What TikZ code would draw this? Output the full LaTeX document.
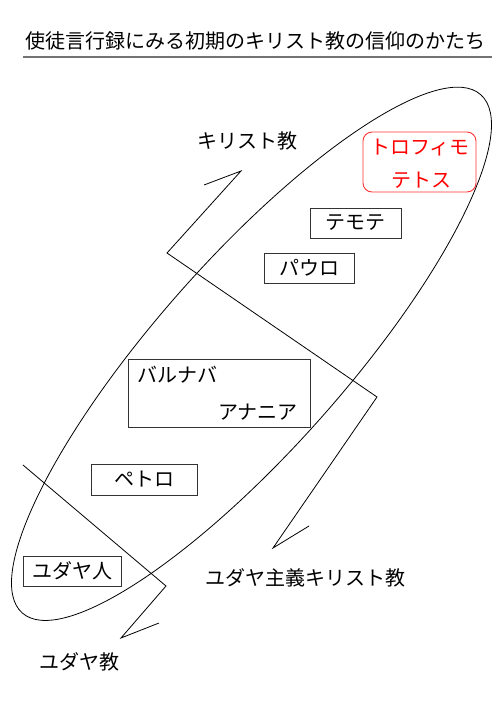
\documentclass[tikz,border=0pt]{standalone}
\usepackage{fontspec}
\newfontfamily\cjk{Noto Sans CJK JP}
\begin{document}
\begin{tikzpicture}[x=1pt,y=-1pt,
  lbl/.style={font=\cjk\fontsize{20}{24}\selectfont, inner sep=0pt},
  box/.style={draw=black!80, line width=0.9pt, inner sep=0pt},
  redbox/.style={draw=red!80, rounded corners=9pt, line width=0.9pt, inner sep=0pt},
  zig/.style={line width=0.8pt, line join=miter}]
\useasboundingbox[fill=white] (0,0) rectangle (500,707);
% title
\node[lbl] (title) at (255.5,41) {使徒言行録にみる初期のキリスト教の信仰のかたち};
\coordinate (ulA) at (23,57);
\coordinate (ulB) at (492,57);
\draw[black!55, line width=1.4pt] (ulA) -- (ulB);
% ellipse
\coordinate (ec) at (251.5,353.8);
\draw[line width=0.8pt, rotate around={48.5:(ec)}] (ec) ellipse [x radius=346, y radius=94.5];
% zigzag shapes
\draw[zig] (204,185) -- (241,171) -- (167,253) -- (377,397) -- (273,548) -- (309,526);
\draw[zig] (23,465) -- (166,586) -- (121,638) -- (159,623);
% boxes
\node[redbox, minimum width=113pt, minimum height=60pt] (troph) at (419.5,162) {};
\node[lbl, text=red] (trophA) at (420,148) {トロフィモ};
\node[lbl, text=red] (trophB) at (421.5,180) {テトス};
\node[box, lbl, minimum width=91pt, minimum height=30pt] (timothy) at (355.5,223) {テモテ};
\node[box, lbl, minimum width=90pt, minimum height=30pt] (paul) at (309,268) {パウロ};
\node[box, minimum width=182pt, minimum height=68pt] (barbox) at (219,393) {};
\node[lbl, anchor=west] (barnabas) at (137,375) {バルナバ};
\node[lbl, anchor=east] (ananias) at (298,412) {アナニア};
\node[box, lbl, minimum width=106pt, minimum height=31pt] (peter) at (144,479.5) {ペトロ};
\node[box, lbl, minimum width=98pt, minimum height=30pt] (jews) at (72,571) {ユダヤ人};
% labels
\node[lbl] (christ) at (247,141) {キリスト教};
\node[lbl] (jchrist) at (305,578) {ユダヤ主義キリスト教};
\node[lbl] (judaism) at (79,662) {ユダヤ教};
\end{tikzpicture}
\end{document}
